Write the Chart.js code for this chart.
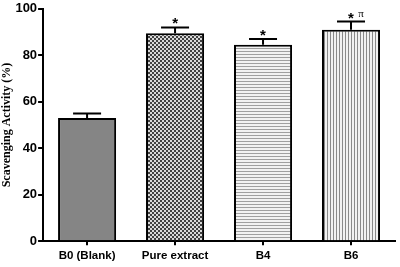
<html>
<head>
<title>Scavenging Activity</title>
<script src="https://cdn.jsdelivr.net/npm/chart.js@4.4.0/dist/chart.umd.min.js"></script>
<style>
    body { margin: 0; background: white; }
</style>
</head>
<body>
<canvas id="myChart" width="400" height="267"></canvas>

<script>

const CATEGORIES = ["B0 (Blank)", "Pure extract", "B4", "B6"];
const ACTIVITY = [53, 89.5, 84.5, 91];
const ERRORS = [2, 2.5, 2.5, 3.5];
const MARKS = ["", "*", "*", "*"];
const SUPER_MARKS = ["", "", "", "\u03c0"];
const Y_TICKS = [0, 20, 40, 60, 80, 100];

makePattern = function(kind){
    let c = document.createElement("canvas");
    let ctx = c.getContext("2d");
    if (kind == "checker"){
        c.width = 4; c.height = 4;
        ctx.fillStyle = "#d8d8d8";
        ctx.fillRect(0, 0, 4, 4);
        ctx.fillStyle = "#404040";
        ctx.fillRect(0, 0, 2, 2);
        ctx.fillRect(2, 2, 2, 2);
    } else if (kind == "hlines"){
        c.width = 4; c.height = 3;
        ctx.fillStyle = "#f2f2f2";
        ctx.fillRect(0, 0, 4, 3);
        ctx.fillStyle = "#a0a0a0";
        ctx.fillRect(0, 0, 4, 1);
    } else {
        c.width = 3; c.height = 4;
        ctx.fillStyle = "#f2f2f2";
        ctx.fillRect(0, 0, 3, 4);
        ctx.fillStyle = "#8a8a8a";
        ctx.fillRect(0, 0, 1, 4);
    }
    return ctx.createPattern(c, "repeat");
}

// error bars and significance marks, placed through the chart scales
const errorBars = {
    id: "errorBars",
    afterDatasetsDraw(chart){
        let ctx = chart.ctx;
        let xs = chart.scales.x, ys = chart.scales.y;
        ctx.save();
        ctx.strokeStyle = "black";
        ctx.lineWidth = 2;
        for (let i = 0; i < ACTIVITY.length; i++){
            let x = xs.getPixelForValue(i);
            let y0 = ys.getPixelForValue(ACTIVITY[i]);
            let y1 = ys.getPixelForValue(ACTIVITY[i] + ERRORS[i]);
            ctx.beginPath();
            ctx.moveTo(x, y0);
            ctx.lineTo(x, y1);
            ctx.moveTo(x - 14, y1);
            ctx.lineTo(x + 14, y1);
            ctx.stroke();
            ctx.fillStyle = "black";
            ctx.font = "bold 15px Arial";
            ctx.textAlign = "center";
            ctx.textBaseline = "alphabetic";
            if (MARKS[i]) ctx.fillText(MARKS[i], x, y1 + 1);
            if (SUPER_MARKS[i]){
                ctx.font = "11px 'Liberation Serif'";
                ctx.fillText(SUPER_MARKS[i], x + 10, y1 - 5);
            }
        }
        ctx.restore();
    }
};

new Chart("myChart", {
    type: "bar",
    data: {
        labels: CATEGORIES,
        datasets: [{
            data: ACTIVITY,
            backgroundColor: ["#858585", makePattern("checker"), makePattern("hlines"), makePattern("vlines")],
            borderColor: "black",
            borderWidth: 2,
            borderSkipped: "bottom",
            categoryPercentage: 1.0,
            barPercentage: 0.66
        }]
    },
    options: {
        responsive: false,
        animation: false,
        layout: { padding: { top: 6, right: 5, left: 0, bottom: 0 } },
        plugins: { legend: { display: false }, tooltip: { enabled: false } },
        scales: {
            x: {
                grid: { display: true, drawOnChartArea: false, offset: false, tickLength: 4, lineWidth: 2, color: "black" },
                border: { display: true, width: 2, color: "black" },
                ticks: { color: "black", font: { family: "Arial", size: 11.5, weight: "bold" }, padding: 4 }
            },
            y: {
                min: 0,
                max: 100,
                afterBuildTicks: (axis) => { axis.ticks = Y_TICKS.map(v => ({ value: v })); },
                grid: { display: true, drawOnChartArea: false, tickLength: 5, lineWidth: 2, color: "black" },
                border: { display: true, width: 2, color: "black" },
                ticks: { color: "black", font: { family: "Arial", size: 13, weight: "bold" }, padding: 1 },
                title: {
                    display: true,
                    text: "Scavenging Activity (%)",
                    color: "black",
                    font: { family: "Liberation Serif", size: 12, weight: "bold" },
                    padding: { top: 0, bottom: 0 }
                }
            }
        }
    },
    plugins: [errorBars]
});

</script>
</body>
</html>
